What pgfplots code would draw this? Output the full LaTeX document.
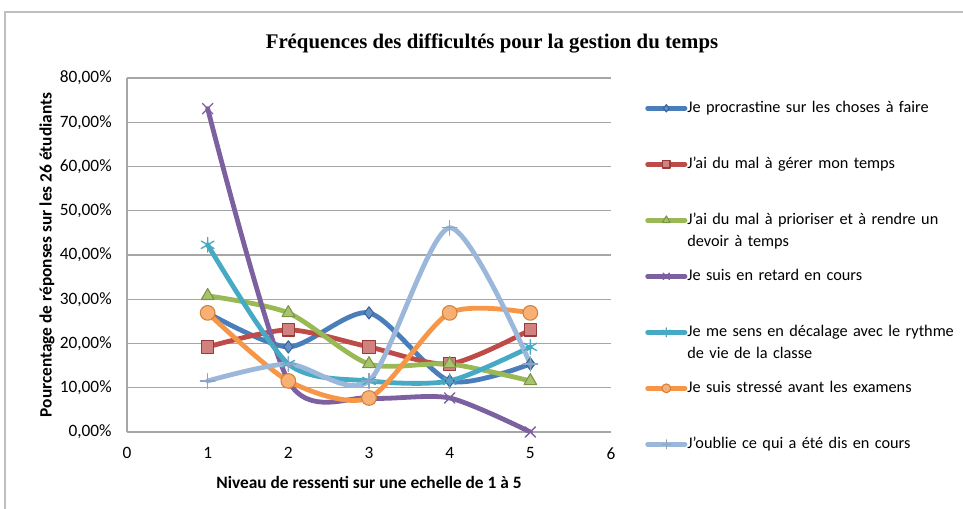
\documentclass[border=0pt]{standalone}
\usepackage{fontspec}
\setmainfont{Carlito}
\newfontfamily\titlefont{Liberation Serif}
\usepackage{pgfplots}
\usepackage{pgfplotstable}
\pgfplotsset{compat=1.18}

\definecolor{sBlue}{HTML}{4A7EBB}
\definecolor{sRed}{HTML}{BE4B48}
\definecolor{sGreen}{HTML}{98B954}
\definecolor{sPurple}{HTML}{7D60A0}
\definecolor{sTeal}{HTML}{46AAC5}
\definecolor{sOrange}{HTML}{F79646}
\definecolor{sLight}{HTML}{9BB7D9}
\definecolor{gridgray}{HTML}{A6A6A6}

% n/26 students, in percent
\pgfplotstableread{
x procr gerer prior retard decal stress oubli
1 26.92 19.23 30.77 73.08 42.31 26.92 11.54
2 19.23 23.08 26.92 11.54 15.38 11.54 15.38
3 26.92 19.23 15.38  7.69 11.54  7.69 11.54
4 11.54 15.38 15.38  7.69 11.54 26.92 46.15
5 15.38 23.08 11.54  0.00 19.23 26.92 15.38
}\data

\begin{document}
\begin{tikzpicture}
\useasboundingbox (0pt,0pt) rectangle (722.25pt,-381.75pt);
\draw[black!25, line width=1.1pt] (3.75pt,-390pt) -- (3.75pt,-9pt) -- (730pt,-9pt);
\node[font=\titlefont\bfseries\fontsize{15.6}{18}\selectfont] at (369pt,-32.25pt)
  {Fréquences des difficultés pour la gestion du temps};

\begin{axis}[
  at={(95.25pt,-324pt)}, anchor=south west,
  scale only axis, width=363pt, height=265.5pt,
  xmin=0, xmax=6, ymin=0, ymax=80,
  xtick={0,...,6}, ytick={0,10,...,80},
  yticklabels={{0,00\%},{10,00\%},{20,00\%},{30,00\%},{40,00\%},{50,00\%},{60,00\%},{70,00\%},{80,00\%}},
  /pgf/number format/assume math mode=true,
  font=\fontsize{13}{15}\selectfont,
  axis lines*=left,
  x axis line style={draw=none},
  y axis line style={draw=gridgray, line width=1pt},
  major tick length=0pt,
  ymajorgrids, grid style={gridgray, line width=1pt},
  xticklabel style={yshift=-8pt},
  yticklabel style={xshift=-8pt},
  xlabel={\bfseries Niveau de ressenti sur une echelle de 1 à 5},
  ylabel={\bfseries Pourcentage de réponses sur les 26 étudiants},
  xlabel style={at={(axis description cs:0.5,0)}, anchor=center, yshift=-37.5pt},
  ylabel style={at={(axis description cs:0,0.5)}, anchor=center, yshift=60pt},
  every axis plot/.append style={line width=3.6pt, smooth, tension=0.45, line cap=round, line join=round},
  legend image code/.code={\draw[mark repeat=2, mark phase=2, #1, every mark/.append style={scale=0.6}]
    plot coordinates {(0pt,0.3em) (14pt,0.3em) (28pt,0.3em)};},
  legend style={at={(1.0702,0.934)}, anchor=north west, draw=none, fill=none,
    inner sep=0pt, row sep=2pt, cells={anchor=base west},
    nodes={text width=215pt, align=left, inner sep=0pt, xshift=1pt,
      text height=8pt, text depth=32pt, font=\fontsize{12.2}{17}\selectfont}},
]
\addplot[sBlue, mark=diamond*, mark size=4.6pt,
  mark options={solid, line width=0.8pt, draw=sBlue!80!black, fill=sBlue!85!white}]
  table[x=x, y=procr] {\data};
\addlegendentry{Je procrastine sur les choses à faire}
\addplot[sRed, mark=square*, mark size=4.6pt,
  mark options={solid, line width=0.8pt, draw=sRed!80!black, fill=sRed!70!white}]
  table[x=x, y=gerer] {\data};
\addlegendentry{J'ai du mal à gérer mon temps}
\addplot[sGreen, mark=triangle*, mark size=5.5pt,
  mark options={solid, line width=0.8pt, draw=sGreen!80!black, fill=sGreen!85!white}]
  table[x=x, y=prior] {\data};
\addlegendentry{J'ai du mal à prioriser et à rendre un\\devoir à temps}
\addplot[sPurple, mark=x, mark size=5.5pt,
  mark options={solid, line width=1pt, draw=sPurple}]
  table[x=x, y=retard] {\data};
\addlegendentry{Je suis en retard en cours}
\addplot[sTeal, mark=asterisk, mark size=5.5pt,
  mark options={solid, line width=1pt, draw=sTeal}]
  table[x=x, y=decal] {\data};
\addlegendentry{Je me sens en décalage avec le rythme\\de vie de la classe}
\addplot[sOrange, mark=*, mark size=5.5pt,
  mark options={solid, line width=0.8pt, draw=sOrange!85!black, fill=sOrange!75!white}]
  table[x=x, y=stress] {\data};
\addlegendentry{Je suis stressé avant les examens}
\addplot[sLight, mark=+, mark size=5.5pt,
  mark options={solid, line width=1pt, draw=sLight!90!black}]
  table[x=x, y=oubli] {\data};
\addlegendentry{J'oublie ce qui a été dis en cours}
\end{axis}
\end{tikzpicture}
\end{document}
